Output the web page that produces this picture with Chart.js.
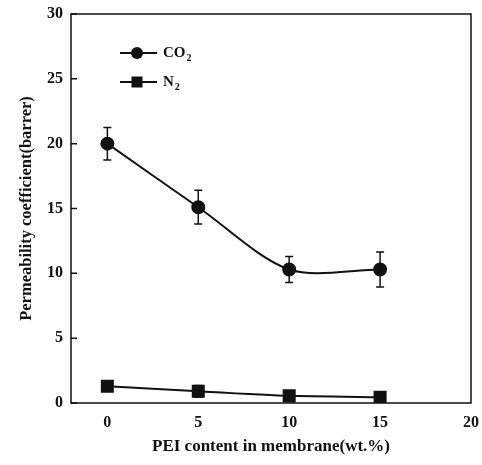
<!DOCTYPE html>
<html>
<head>
<meta charset="utf-8">
<script src="https://cdn.jsdelivr.net/npm/chart.js@4"></script>
<style>
  html, body { margin: 0; padding: 0; background: #fff; }
  #wrap { width: 482px; height: 465px; }
</style>
</head>
<body>
<div id="wrap"><canvas id="chart" width="482" height="465"></canvas></div>
<script>
// données
const pei = [0, 5, 10, 15];
const co2 = [20.0, 15.1, 10.3, 10.3];
const co2Err = [1.25, 1.3, 1.0, 1.35];
const n2 = [1.3, 0.9, 0.55, 0.45];
const n2Err = [0.4, 0.45, 0.2, 0.1];
const yTicks = [0, 5, 10, 15, 20, 25, 30];
const xTicks = [0, 5, 10, 15, 20];

const serif = '"Liberation Serif", "DejaVu Serif", serif';

// barres d'erreur + cadre + petites graduations
const errorBars = {
  id: 'errorBars',
  afterDatasetsDraw(chart) {
    const ctx = chart.ctx;
    const x = chart.scales.x, y = chart.scales.y;
    const errs = [co2Err, n2Err];
    ctx.save();
    ctx.strokeStyle = '#111';
    ctx.lineWidth = 1.5;
    chart.data.datasets.forEach((ds, i) => {
      ds.data.forEach((p, j) => {
        const e = errs[i][j];
        const px = x.getPixelForValue(p.x);
        const top = y.getPixelForValue(p.y + e);
        const bot = y.getPixelForValue(p.y - e);
        ctx.beginPath();
        ctx.moveTo(px, top); ctx.lineTo(px, bot);
        ctx.moveTo(px - 4, top); ctx.lineTo(px + 4, top);
        ctx.moveTo(px - 4, bot); ctx.lineTo(px + 4, bot);
        ctx.stroke();
      });
    });
    // cadre
    const a = chart.chartArea;
    ctx.lineWidth = 1.5;
    ctx.strokeRect(a.left, a.top, a.right - a.left, a.bottom - a.top);
    // graduations vers l'intérieur
    ctx.beginPath();
    yTicks.forEach(v => {
      const py = y.getPixelForValue(v);
      ctx.moveTo(a.left, py); ctx.lineTo(a.left + 6, py);
    });
    ctx.stroke();
    ctx.restore();
  }
};

// légende dans la zone du graphe
const legendIn = {
  id: 'legendIn',
  afterDraw(chart) {
    const ctx = chart.ctx;
    const items = [
      { main: 'CO', sub: '2', style: 'circle', y: 53 },
      { main: 'N', sub: '2', style: 'rect', y: 82 }
    ];
    ctx.save();
    ctx.strokeStyle = '#111';
    ctx.fillStyle = '#111';
    ctx.lineWidth = 2;
    items.forEach(it => {
      ctx.beginPath();
      ctx.moveTo(120, it.y); ctx.lineTo(157, it.y);
      ctx.stroke();
      ctx.beginPath();
      if (it.style === 'circle') {
        ctx.arc(137, it.y, 6, 0, Math.PI * 2);
        ctx.fill();
      } else {
        ctx.fillRect(137 - 5.5, it.y - 5.5, 11, 11);
      }
      ctx.font = 'bold 15px ' + serif;
      ctx.textBaseline = 'middle';
      ctx.textAlign = 'left';
      ctx.fillText(it.main, 163, it.y);
      const w = ctx.measureText(it.main).width;
      ctx.font = 'bold 10px ' + serif;
      ctx.fillText(it.sub, 163 + w + 1, it.y + 5);
    });
    ctx.restore();
  }
};

new Chart(document.getElementById('chart'), {
  type: 'line',
  data: {
    datasets: [
      {
        label: 'CO₂',
        data: pei.map((v, i) => ({ x: v, y: co2[i] })),
        borderColor: '#111',
        backgroundColor: '#111',
        borderWidth: 2,
        pointStyle: 'circle',
        pointRadius: 6,
        tension: 0.3
      },
      {
        label: 'N₂',
        data: pei.map((v, i) => ({ x: v, y: n2[i] })),
        borderColor: '#111',
        backgroundColor: '#111',
        borderWidth: 2,
        pointStyle: 'rect',
        pointRadius: 7.8,
        tension: 0.2
      }
    ]
  },
  options: {
    responsive: false,
    animation: false,
    layout: { padding: { top: 14, right: 11, left: 0, bottom: 0 } },
    plugins: { legend: { display: false }, tooltip: { enabled: false } },
    scales: {
      x: {
        type: 'linear',
        min: -2,
        max: 20,
        afterFit: s => { s.height = 62; s.paddingLeft = 0; s.paddingRight = 0; },
        afterBuildTicks: s => { s.ticks = xTicks.map(v => ({ value: v })); },
        grid: { display: false, drawTicks: false },
        border: { display: false },
        ticks: { color: '#111', padding: 10, font: { family: serif, size: 16, weight: 'bold' } },
        title: {
          display: true,
          text: 'PEI content in membrane(wt.%)',
          color: '#111',
          padding: { bottom: 8 },
          font: { family: serif, size: 17, weight: 'bold' }
        }
      },
      y: {
        min: 0,
        max: 30,
        afterFit: s => { s.width = 71; s.paddingTop = 0; s.paddingBottom = 0; },
        afterBuildTicks: s => { s.ticks = yTicks.map(v => ({ value: v })); },
        grid: { display: false, drawTicks: false },
        border: { display: false },
        ticks: { color: '#111', padding: 8, font: { family: serif, size: 16, weight: 'bold' } },
        title: {
          display: true,
          text: 'Permeability coefficient(barrer)',
          color: '#111',
          padding: { top: 17 },
          font: { family: serif, size: 16.5, weight: 'bold' }
        }
      }
    }
  },
  plugins: [errorBars, legendIn]
});
</script>
</body>
</html>
